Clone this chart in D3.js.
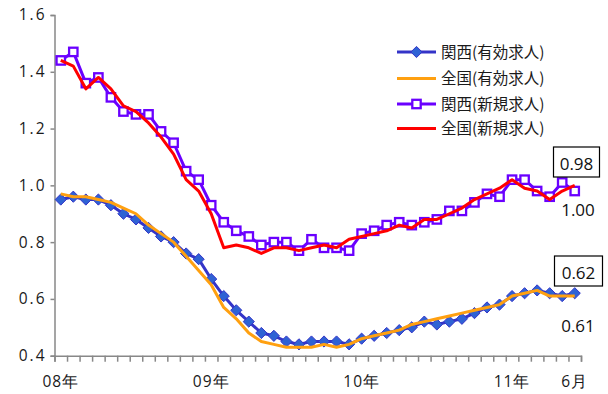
<!DOCTYPE html>
<html><head><meta charset="utf-8">
<script src="https://cdn.jsdelivr.net/npm/d3@7"></script>
<style>
body{margin:0;background:#fff;}
svg{display:block;}
</style></head>
<body>
<svg id="c" width="608" height="394"></svg>
<script>
const months = d3.range(42); // Jan 2008 .. Jun 2011
const xLabels = [[0,"08年"],[12,"09年"],[24,"10年"],[36,"11年"],[41,"6月"]];
const yTicks = [0.4,0.6,0.8,1.0,1.2,1.4,1.6];
const seriesNames = ["関西(有効求人)","全国(有効求人)","関西(新規求人)","全国(新規求人)"];
const kansaiYuko = [0.95,0.96,0.95,0.95,0.93,0.90,0.88,0.85,0.82,0.80,0.76,0.74,0.67,0.61,0.56,0.52,0.48,0.47,0.45,0.44,0.45,0.45,0.45,0.44,0.46,0.47,0.48,0.49,0.50,0.52,0.51,0.52,0.53,0.55,0.57,0.58,0.61,0.62,0.63,0.62,0.61,0.62];
const zenkokuYuko = [0.97,0.96,0.96,0.95,0.94,0.92,0.90,0.86,0.83,0.80,0.75,0.70,0.65,0.57,0.53,0.48,0.45,0.44,0.43,0.43,0.43,0.44,0.43,0.44,0.46,0.47,0.48,0.49,0.51,0.52,0.53,0.54,0.55,0.56,0.57,0.58,0.61,0.62,0.63,0.61,0.61,0.61];
const kansaiShinki = [1.44,1.47,1.36,1.38,1.31,1.26,1.25,1.25,1.19,1.15,1.05,1.02,0.93,0.87,0.84,0.82,0.79,0.80,0.80,0.77,0.81,0.78,0.78,0.77,0.83,0.84,0.86,0.87,0.86,0.87,0.88,0.91,0.91,0.94,0.97,0.96,1.02,1.02,0.98,0.96,1.01,0.98];
const zenkokuShinki = [1.44,1.42,1.34,1.38,1.34,1.28,1.26,1.22,1.17,1.11,1.02,0.98,0.90,0.78,0.79,0.78,0.76,0.78,0.78,0.77,0.78,0.79,0.78,0.81,0.82,0.83,0.84,0.86,0.85,0.88,0.88,0.90,0.92,0.95,0.97,0.99,1.02,0.99,0.98,0.95,0.98,1.00];
const annotations = [
  {text:"0.98", boxed:true},
  {text:"1.00", boxed:false},
  {text:"0.62", boxed:true},
  {text:"0.61", boxed:false}
];

const svg = d3.select("#c");
const L = 54.5, R = 581, T = 15, B = 355.7;
const x = d3.scaleBand().domain(months).range([L, R]).padding(0);
const xb = d3.scaleLinear().domain([0, 42]).range([L, R]);
const y = d3.scaleLinear().domain([0.4, 1.6]).range([B, T]);
const cx = i => x(i) + x.bandwidth()/2;

const numFont = "'Open Sans', sans-serif";
const jpFont = "'Noto Sans CJK JP', sans-serif";

// Y axis
const ya = svg.append("g").attr("transform", `translate(${L},0)`)
  .call(d3.axisLeft(y).tickValues(yTicks).tickFormat(d3.format(".1f")).tickSize(4).tickPadding(4));
ya.select(".domain").attr("stroke", "#888").attr("stroke-width", 1.5);
ya.selectAll(".tick line").attr("stroke", "#888").attr("stroke-width", 1.5);
ya.selectAll(".tick text").attr("font-family", numFont).attr("font-size", 15.5)
  .attr("fill", "#1a1a1a").style("letter-spacing", "2px");

// X axis ticks at band boundaries
const xt = svg.append("g").attr("transform", `translate(0,${B})`)
  .call(d3.axisBottom(xb).tickValues(d3.range(43)).tickSize(6).tickFormat(""));
xt.select(".domain").attr("stroke", "#888").attr("stroke-width", 1.5);
xt.selectAll(".tick line").attr("stroke", "#888").attr("stroke-width", 1.5);

// X axis labels
const xl = svg.append("g").attr("transform", `translate(0,${B})`)
  .call(d3.axisBottom(x).tickValues(xLabels.map(d => d[0]))
    .tickFormat(i => xLabels.find(d => d[0] === i)[1]).tickSize(0).tickPadding(20));
xl.select(".domain").remove();
xl.selectAll(".tick text").attr("font-family", numFont).attr("font-size", 15.5).attr("fill", "#1a1a1a")
  .style("letter-spacing", "1px");

const line = d3.line().x((d, i) => cx(i)).y(d => y(d));

const series = [
  {data: kansaiYuko, color: "#3434c8", marker: "diamond", mcolor: "#2f62d4"},
  {data: zenkokuYuko, color: "#ffa010", marker: null},
  {data: kansaiShinki, color: "#6a00ff", marker: "square"},
  {data: zenkokuShinki, color: "#ff0000", marker: null}
];

function drawMarker(g, type, s, px, py) {
  if (type === "diamond") {
    g.append("path").attr("d", d3.symbol(d3.symbolDiamond2, 80)())
      .attr("transform", `translate(${px},${py})`)
      .attr("fill", s.mcolor).attr("stroke", s.color).attr("stroke-width", 1);
  } else if (type === "square") {
    g.append("rect").attr("x", px - 4.2).attr("y", py - 4.2).attr("width", 8.4).attr("height", 8.4)
      .attr("fill", "#fff").attr("stroke", s.color).attr("stroke-width", 2.3);
  }
}

series.forEach(s => {
  const g = svg.append("g");
  g.append("path").datum(s.data).attr("d", line).attr("fill", "none")
    .attr("stroke", s.color).attr("stroke-width", 3).attr("stroke-linejoin", "round");
  if (s.marker) s.data.forEach((v, i) => drawMarker(g, s.marker, s, cx(i), y(v)));
});

// Legend
const legY = [52, 78.5, 104, 128.5];
series.forEach((s, k) => {
  const g = svg.append("g");
  g.append("line").attr("x1", 397).attr("x2", 436).attr("y1", legY[k]).attr("y2", legY[k])
    .attr("stroke", s.color).attr("stroke-width", 3);
  if (s.marker) drawMarker(g, s.marker, s, 416.5, legY[k]);
  g.append("text").attr("x", 441).attr("y", legY[k]).attr("dy", "0.36em")
    .attr("font-family", jpFont).attr("font-size", 15.5).attr("fill", "#1a1a1a")
    .text(seriesNames[k]);
});

// Annotations
const annPos = [
  {bx:553.5, by:147, bw:46, bh:30, ty:170},
  {bx:null, tx:578, ty:216},
  {bx:554.5, by:256, bw:48, bh:30, ty:279},
  {bx:null, tx:578, ty:332}
];
annotations.forEach((a, k) => {
  const p = annPos[k];
  let tx = p.tx;
  if (a.boxed) {
    svg.append("rect").attr("x", p.bx).attr("y", p.by).attr("width", p.bw).attr("height", p.bh)
      .attr("fill", "#fff").attr("stroke", "#000").attr("stroke-width", 1.2);
    tx = p.bx + p.bw/2;
  }
  svg.append("text").attr("x", tx).attr("y", p.ty).attr("text-anchor", "middle")
    .attr("font-family", numFont).attr("font-size", 17).attr("fill", "#111").text(a.text);
});
</script>
</body></html>
